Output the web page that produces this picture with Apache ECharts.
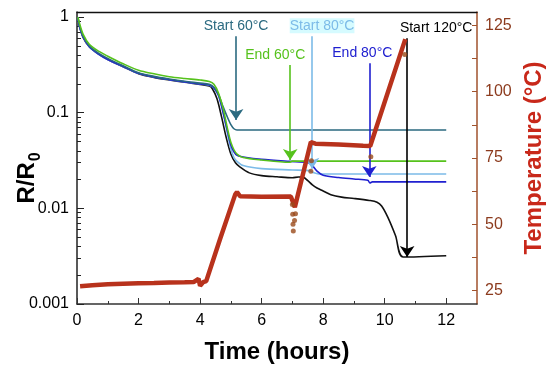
<!DOCTYPE html>
<html><head><meta charset="utf-8">
<script src="https://cdn.jsdelivr.net/npm/echarts@6/dist/echarts.min.js"></script>
<style>html,body{margin:0;padding:0;background:#fff}#c{width:550px;height:373px}</style>
</head><body><div id="c"></div>
<script>
// ---- data (time in hours, R/R0 ratio, temperature in °C) ----
const start60 = [[0.03,1.0],[0.08,0.82],[0.2,0.63],[0.4,0.5],[0.7,0.42],[1,0.37],[1.5,0.31],[2,0.262],[2.5,0.24],[3,0.225],[3.5,0.213],[4,0.204],[4.3,0.198],[4.45,0.185],[4.6,0.155],[4.75,0.115],[4.9,0.088],[5.0,0.075],[5.1,0.068],[5.2,0.066],[8,0.066],[12,0.066]];
const end60 = [[0.03,1.0],[0.08,0.86],[0.2,0.66],[0.4,0.52],[0.7,0.44],[1,0.39],[1.5,0.325],[2,0.278],[2.5,0.255],[3,0.238],[3.5,0.228],[4,0.22],[4.3,0.212],[4.45,0.198],[4.6,0.16],[4.75,0.11],[4.9,0.066],[5.0,0.049],[5.1,0.041],[5.2,0.037],[5.4,0.034],[6,0.032],[6.9,0.0303],[7.0,0.0312],[12,0.0312]];
const start80 = [[0.03,1.0],[0.08,0.8],[0.2,0.62],[0.4,0.49],[0.7,0.41],[1,0.36],[1.5,0.305],[2,0.258],[2.5,0.236],[3,0.222],[3.5,0.21],[4,0.2],[4.3,0.194],[4.45,0.18],[4.6,0.15],[4.75,0.1],[4.9,0.058],[5.0,0.042],[5.1,0.034],[5.2,0.031],[5.4,0.028],[6,0.026],[7,0.0252],[7.55,0.0248],[7.7,0.0235],[7.85,0.0229],[12,0.0229]];
const end80 = [[0.03,1.0],[0.08,0.8],[0.2,0.62],[0.4,0.49],[0.7,0.41],[1,0.36],[1.5,0.305],[2,0.258],[2.5,0.236],[3,0.222],[3.5,0.21],[4,0.2],[4.3,0.195],[4.45,0.182],[4.6,0.152],[4.75,0.1],[4.9,0.062],[5.0,0.046],[5.1,0.039],[5.2,0.036],[5.5,0.034],[6,0.0325],[6.9,0.031],[7.5,0.0302],[7.65,0.028],[7.8,0.0245],[8.0,0.0222],[8.5,0.021],[9.0,0.0203],[9.45,0.0197],[9.52,0.0184],[9.6,0.0189],[12,0.0189]];
const start120 = [[0.03,1.0],[0.08,0.8],[0.2,0.61],[0.4,0.49],[0.7,0.41],[1,0.36],[1.5,0.302],[2,0.256],[2.5,0.234],[3,0.22],[3.5,0.208],[4,0.198],[4.3,0.19],[4.4,0.178],[4.55,0.14],[4.7,0.09],[4.85,0.055],[5.0,0.037],[5.15,0.03],[5.3,0.027],[5.6,0.0235],[6,0.022],[6.5,0.0214],[7.0,0.0209],[7.2,0.0213],[7.35,0.0212],[7.5,0.0195],[7.65,0.0176],[7.8,0.0163],[8.0,0.0152],[8.25,0.0139],[8.6,0.0131],[9.0,0.0127],[9.5,0.0121],[9.75,0.0116],[9.9,0.0106],[10.1,0.0081],[10.35,0.0052],[10.6,0.0031],[12,0.0032]];
const temperature = [[0.1,26.7],[0.5,27.1],[1,27.4],[1.5,27.6],[2,27.8],[2.5,27.9],[3,28.1],[3.5,28.2],[3.8,28.3],[3.95,29.5],[4.0,26.9],[4.1,28.2],[4.2,28.6],[4.65,44.5],[5.14,61.2],[5.2,62.2],[5.3,60.6],[6,60.4],[6.95,60.5],[7.08,56.5],[7.6,81],[7.65,81.3],[7.75,80.4],[8.5,80.1],[9.3,79.6],[9.53,79.5],[10.67,119.8]];
const temperatureDots = [[7.0,57.5],[7.01,53.8],[7.02,50],[7.03,47.5],[7.07,51.5],[7.1,54],[7.6,70],[7.62,74],[9.55,75.5],[10.65,114]];
// ---- axis ticks ----
const xMajor = [0,2,4,6,8,10,12];
const xMinor = [1,3,5,7,9,11];
const leftMajor = [0.001,0.01,0.1,1];
const leftMinor = [];
[0.001,0.01,0.1].forEach(d => { for (let k = 2; k <= 9; k++) leftMinor.push(+(d*k).toPrecision(3)); });
const rightLabels = [25,50,75,100,125];
const rightTicks = [25,37.5,50,62.5,75,87.5,100,112.5,125];
// ---- annotation arrows ----
const arrowNames = ['Start 60°C','End 60°C','Start 80°C','End 80°C','Start 120°C'];
const arrowTimes = [5.17,6.93,7.64,9.5,10.73];
const arrowTops  = [0.63,0.315,0.63,0.33,0.60];
const arrowTips  = [0.084,0.032,0.026,0.0213,0.0031];
const arrowColors = ['#2b6a80','#56c21c','#7cbbe8','#2020d0','#000000'];
const arrowShift = [0,-30,20,-14,58];

const FONT = 'Liberation Sans, Arial, sans-serif';
const chart = echarts.init(document.getElementById('c'), null, {renderer:'canvas'});

const markData = arrowNames.map((n,i) => {
  const s = arrowShift[i];
  const rich = {
    t: {color: arrowColors[i], fontSize: 14, fontFamily: FONT,
        backgroundColor: i === 2 ? '#d6fbff' : 'transparent', padding: [1,0,0,0]},
    l: {width: s > 0 ? s : 0},
    r: {width: s < 0 ? -s : 0}
  };
  return [
    {coord: [arrowTimes[i], arrowTops[i]], lineStyle: {color: arrowColors[i], width: 1.6, type: 'solid'},
     label: {show: true, position: 'start', distance: 3, formatter: '{l|}{t|' + n + '}{r|}', rich: rich}},
    {coord: [arrowTimes[i], arrowTips[i]]}
  ];
});

function curve(name, data, color, w) {
  return {name, type: 'line', data, xAxisIndex: 0, yAxisIndex: 0, symbol: 'none', smooth: 0.3,
          lineStyle: {color, width: w || 1.6}, itemStyle: {color}, z: 3};
}

const series = [
  Object.assign(curve('Start 120°C', start120, '#111111'), {
    markLine: {silent: true, symbol: ['none','arrow'], symbolSize: 11, data: markData, z: 4,
               animation: false}
  }),
  curve('Start 80°C', start80, '#7cbbe8'),
  curve('End 80°C', end80, '#2020d0'),
  curve('Start 60°C', start60, '#2b6a80'),
  curve('End 60°C', end60, '#56c21c'),
  {name: 'Temperature', type: 'line', data: temperature, xAxisIndex: 0, yAxisIndex: 2, symbol: 'none',
   lineStyle: {color: '#b8321c', width: 4.5}, z: 5},
  {name: 'Temperature dots', type: 'scatter', data: temperatureDots, xAxisIndex: 0, yAxisIndex: 2,
   symbolSize: 5, itemStyle: {color: '#9a4a1a'}, z: 5}
];

chart.setOption({
  animation: false,
  backgroundColor: '#fff',
  grid: {left: 77, right: 73, top: 12, bottom: 69, containLabel: false, outerBoundsMode: 'none'},
  xAxis: [
    {type: 'value', min: 0, max: 13, position: 'bottom',
     name: 'Time (hours)', nameLocation: 'middle', nameGap: 36,
     nameTextStyle: {fontSize: 24, fontWeight: 'bold', color: '#000', fontFamily: FONT},
     axisLine: {show: true, onZero: false, lineStyle: {color: '#333', width: 1.5}},
     axisTick: {show: true, inside: true, length: 6, customValues: xMajor, lineStyle: {color: '#333'}},
     axisLabel: {customValues: xMajor, fontSize: 16, color: '#000', fontFamily: FONT, margin: 9},
     splitLine: {show: false}},
    {type: 'value', min: 0, max: 13, position: 'bottom',
     axisLine: {show: false}, axisLabel: {show: false}, splitLine: {show: false},
     axisTick: {show: true, inside: true, length: 3, customValues: xMinor, lineStyle: {color: '#333'}}},
    {type: 'value', min: 0, max: 13, position: 'top',
     axisLine: {show: true, onZero: false, lineStyle: {color: '#111', width: 1.3}},
     axisTick: {show: false}, axisLabel: {show: false}, splitLine: {show: false}}
  ],
  yAxis: [
    {type: 'log', logBase: 10, min: 0.001, max: 1.13, position: 'left',
     name: '{a|R/R}{b|0}', nameLocation: 'middle', nameGap: 38, nameRotate: 90, nameMoveOverlap: false,
     nameTextStyle: {padding: [0, 40, 0, 0], rich: {
       a: {fontSize: 24, fontWeight: 'bold', color: '#000', fontFamily: FONT, verticalAlign: 'bottom'},
       b: {fontSize: 16, fontWeight: 'bold', color: '#000', fontFamily: FONT, verticalAlign: 'bottom', padding: [0,0,-5,1]}}},
     axisLine: {show: true, onZero: false, lineStyle: {color: '#222', width: 1.5}},
     axisTick: {show: true, inside: true, length: 7, customValues: leftMajor, lineStyle: {color: '#222'}},
     axisLabel: {customValues: leftMajor, fontSize: 16, color: '#000', fontFamily: FONT, margin: 8,
                 formatter: v => String(v)},
     splitLine: {show: false}},
    {type: 'log', logBase: 10, min: 0.001, max: 1.13, position: 'left',
     axisLine: {show: false}, axisLabel: {show: false}, splitLine: {show: false},
     axisTick: {show: true, inside: true, length: 4, customValues: leftMinor, lineStyle: {color: '#222'}}},
    {type: 'value', min: 20, max: 130, position: 'right',
     name: 'Temperature (°C)', nameLocation: 'middle', nameGap: 42, nameRotate: 90,
     nameTextStyle: {fontSize: 24, fontWeight: 'bold', color: '#c8281a', fontFamily: FONT},
     axisLine: {show: true, onZero: false, lineStyle: {color: '#a0522d', width: 1.5}},
     axisTick: {show: true, inside: true, length: 5, customValues: rightTicks, lineStyle: {color: '#a0522d'}},
     axisLabel: {customValues: rightLabels, fontSize: 16, color: '#8c3b1e', fontFamily: FONT, margin: 8},
     splitLine: {show: false}},
  ],
  series
});
</script></body></html>
